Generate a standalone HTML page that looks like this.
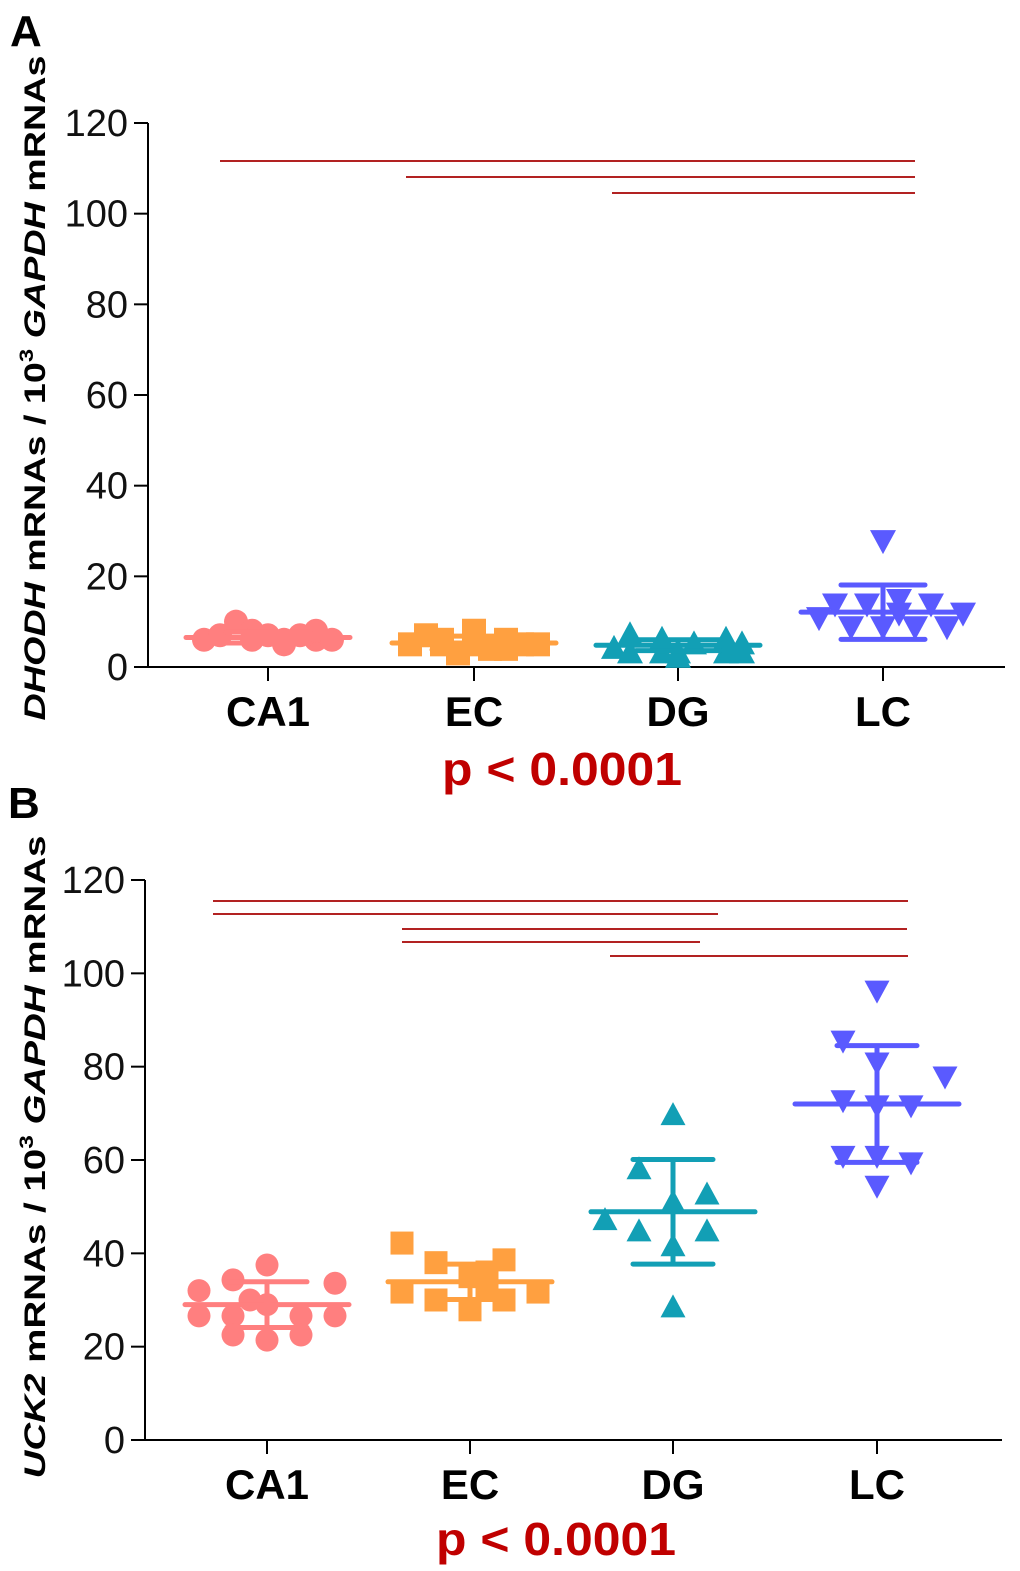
<!DOCTYPE html>
<html><head><meta charset="utf-8"><style>
body{margin:0;background:#fff;}
svg{display:block;font-family:"Liberation Sans",Arial,sans-serif;}
</style></head><body>
<svg id="chart" width="1020" height="1571" viewBox="0 0 1020 1571" xmlns="http://www.w3.org/2000/svg"></svg>
<script>
const categories = ["CA1","EC","DG","LC"];
const yTicks = [0,20,40,60,80,100,120];
// Panel A values (DHODH)
const aCA1 = [6,7,10,8,6,7,6,5,7,6,8,6];
const aCA1x = [-4,-3,-2,-1,-1,0,1,1,2,3,3,4];
const aEC = [5,7,5,6,8,5,3,4,6,4,5,5];
const aECx = [-4,-3,-2,-2,0,0,-1,1,2,2,3,4];
const aDG = [4,7,3,3,6,3,2,5,6,3,5,3];
const aDGx = [-4,-3,-3,-1,-1,0,0,1,3,3,4,4];
const aLC = [28,14,14,15,14,11,9,9,9,12,9,12];
const aLCx = [0,-3,-1,1,3,-4,-2,0,2,1,4,5];
const aMean = [6.5,5.3,4.8,12.1];
const aSD = [1.2,1.5,1.2,6];
// Panel B values (UCK2)
const bCA1 = [32,37.5,34.3,33.6,30,26.6,26.6,29,26.6,26.6,21.4,22.5,22.5];
const bCA1x = [-4,0,-2,4,-1,-4,-2,0,2,4,0,2,-2];
const bEC = [42.2,38,38.6,35,31.7,31.7,30,30,27.9,36,33];
const bECx = [-4,-2,2,0,4,-4,-2,2,0,1,1];
const bDG = [69.5,57.9,52.5,50.8,47,44.6,44.6,41.4,28.3];
const bDGx = [0,-2,2,0,-4,-2,2,0,0];
const bLC = [96.4,85.7,81,78,72.9,71.8,71.8,61,61,59.6,54.6];
const bLCx = [0,-2,0,4,-2,0,2,-2,0,2,0];
const bMean = [29,33.9,48.9,72];
const bSD = [4.9,3.8,11.2,12.5];
const colors = ["#ff7f7f","#ffa040","#129fb5","#5a5aff"];
const shapes = ["circle","square","tri","invtri"];

const svg = document.getElementById('chart');
const NS = "http://www.w3.org/2000/svg";
function mk(tag, attrs, parent){const e=document.createElementNS(NS,tag);for(const k in attrs)e.setAttribute(k,attrs[k]);(parent||svg).appendChild(e);return e;}

function panel(cfg){
  const g = mk('g',{});
  
  
  const y = v => cfg.y0 - v*(cfg.y0-cfg.y120)/120;
  const x = i => cfg.cx[i];
  const ax = mk('line',{x1:cfg.ax,y1:cfg.y120,x2:cfg.ax,y2:cfg.y0,stroke:'#000','stroke-width':2},g);
  
  
  const xx = mk('line',{x1:cfg.ax,y1:cfg.y0,x2:cfg.xEnd,y2:cfg.y0,stroke:'#000','stroke-width':2},g);
  
  
  yTicks.forEach(t=>{
    mk('line',{x1:cfg.ax-14,y1:y(t),x2:cfg.ax,y2:y(t),stroke:'#000','stroke-width':2},g);
    const tl = mk('text',{x:cfg.ax-20,y:y(t)+13,'text-anchor':'end','font-size':38,fill:'#111'},g);
    tl.textContent = t;
    
    
  });
  categories.forEach((c,i)=>{
    mk('line',{x1:x(i),y1:cfg.y0,x2:x(i),y2:cfg.y0+14,stroke:'#000','stroke-width':2},g);
    const cl = mk('text',{x:x(i),y:cfg.y0+59,'text-anchor':'middle','font-size':42,'font-weight':'bold',fill:'#000'},g);
    cl.textContent = c;
    
    
  });
  cfg.sig.forEach(s=>{
    const l = mk('line',{x1:s[1],y1:s[0],x2:s[2],y2:s[0],stroke:'#b22222','stroke-width':2},g);
    
    
  });
  const r = cfg.r;
  cfg.series.forEach((vals,i)=>{
    const col = colors[i];
    vals.forEach((v,j)=>{
      const px = x(i) + cfg.jit[i][j]*cfg.step, py = y(v);
      let e;
      if(shapes[i]=='circle') e = mk('circle',{cx:px,cy:py,r:r,fill:col},g);
      else if(shapes[i]=='square') e = mk('rect',{x:px-r,y:py-r,width:2*r,height:2*r,fill:col},g);
      else if(shapes[i]=='tri') e = mk('polygon',{points:`${px},${py-r-2} ${px-r-1},${py+r-2} ${px+r+1},${py+r-2}`,fill:col},g);
      else e = mk('polygon',{points:`${px},${py+r+2} ${px-r-1},${py-r+2} ${px+r+1},${py-r+2}`,fill:col},g);
      
      
    });
    const m = cfg.mean[i], sd = cfg.sd[i];
    const ml = mk('line',{x1:x(i)-cfg.mw,y1:y(m),x2:x(i)+cfg.mw,y2:y(m),stroke:col,'stroke-width':5,'stroke-linecap':'round'},g);
    
    
    const eb = mk('path',{d:`M${x(i)},${y(m+sd)}V${y(m-sd)}M${x(i)-cfg.ew},${y(m+sd)}H${x(i)+cfg.ew}M${x(i)-cfg.ew},${y(m-sd)}H${x(i)+cfg.ew}`,stroke:col,'stroke-width':5,fill:'none','stroke-linecap':'round'},g);
    
    
  });
  const p = mk('text',{x:cfg.pX,y:cfg.pY,'text-anchor':'middle','font-size':46,'font-weight':'bold',fill:'#c00000',textLength:240,lengthAdjust:'spacingAndGlyphs'},g);
  p.textContent = 'p < 0.0001';
  
  
  const L = mk('text',{x:cfg.letterX,y:cfg.letterY,'font-size':44,'font-weight':'bold',fill:'#000'},g);
  L.textContent = cfg.letter;
  
  
  const t = mk('text',{transform:`translate(${cfg.titleX},${cfg.titleMid}) rotate(-90)`,'text-anchor':'middle','font-size':30,'font-weight':'bold',fill:'#000',textLength:cfg.titleLen,lengthAdjust:'spacingAndGlyphs'},g);
  t.innerHTML = `<tspan font-style="italic">${cfg.gene}</tspan> mRNAs / 10<tspan dy="-12" font-size="19">3</tspan><tspan dy="12"> </tspan><tspan font-style="italic">GAPDH</tspan> mRNAs`;
  
  
}

panel({name:'panel-a',letter:'A',letterX:10,letterY:46,gene:'DHODH',y0:667,y120:123,ax:148,xEnd:1005,
  cx:[268,474,678,883],step:16,mw:82,ew:42,r:12,
  series:[aCA1,aEC,aDG,aLC],jit:[aCA1x,aECx,aDGx,aLCx],mean:aMean,sd:aSD,
  sig:[[161,220,915],[177,406,915],[193,612,915]],pX:562,pY:785,titleX:45,titleMid:388,titleLen:665});
panel({name:'panel-b',letter:'B',letterX:8,letterY:818,gene:'UCK2',y0:1440,y120:880,ax:145,xEnd:1002,
  cx:[267,470,673,877],step:17,mw:82,ew:40,r:11.5,
  series:[bCA1,bEC,bDG,bLC],jit:[bCA1x,bECx,bDGx,bLCx],mean:bMean,sd:bSD,
  sig:[[901,213,908],[914,213,718],[929,402,907],[942,402,700],[956,610,908]],pX:556,pY:1555,titleX:45,titleMid:1157,titleLen:643});
</script>
</body></html>
